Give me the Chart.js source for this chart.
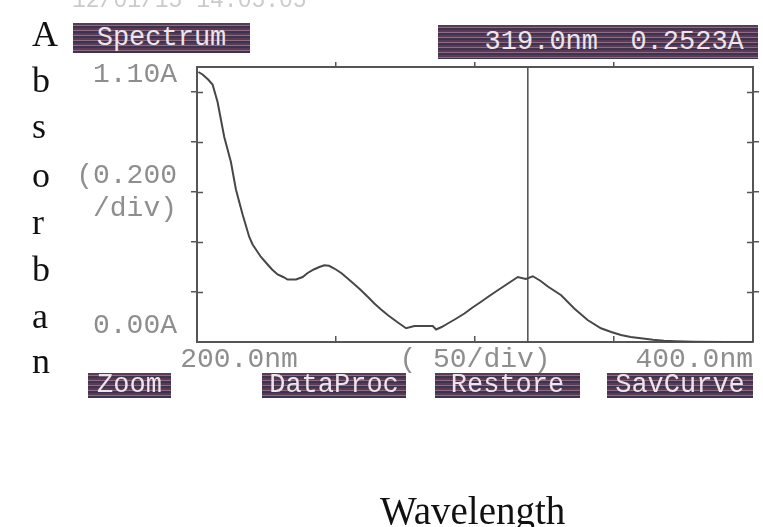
<!DOCTYPE html>
<html>
<head>
<meta charset="utf-8">
<script src="https://cdn.jsdelivr.net/npm/chart.js@4.4.0/dist/chart.umd.min.js"></script>
<style>
  body { margin: 0; background: #fff; }
  #wrap { position: relative; width: 763px; height: 527px; overflow: hidden; }
  #box { position: absolute; left: 0; top: 0; width: 763px; height: 527px; }
  .side { position: absolute; left: 32px; font-family: "Liberation Serif", serif; font-size: 36px; color: #111; line-height: 1; }
  .btn { position: absolute; color: #eee4ea; font-family: "Liberation Mono", monospace; font-size: 27px; text-align: center; white-space: pre;
         background: repeating-linear-gradient(to bottom, #5b3a52 0px, #5b3a52 2px, #8d6c84 2px, #8d6c84 3px, #3c3352 3px, #3c3352 5px); }
  .stamp { position: absolute; left: 72px; top: -12px; font-family: "Liberation Mono", monospace; font-size: 23px; color: #cbcbcb; }
  .xtitle { position: absolute; left: 380px; top: 488px; font-family: "Liberation Serif", serif; font-size: 39px; color: #111; }
</style>
</head>
<body>
<div id="wrap">
  <div id="box"><canvas id="spec"></canvas></div>
  <div class="stamp">12/01/15 14:05:05</div>
  <div class="btn" style="left:73px;top:23px;width:177px;height:30px;line-height:30px;">Spectrum</div>
  <div class="btn" style="left:438px;top:25px;width:320px;height:34px;line-height:34px;">  319.0nm  0.2523A</div>
  <div class="btn" style="left:88px;top:373px;width:83px;height:25px;line-height:25px;">Zoom</div>
  <div class="btn" style="left:262px;top:373px;width:144px;height:25px;line-height:25px;">DataProc</div>
  <div class="btn" style="left:435px;top:373px;width:145px;height:25px;line-height:25px;">Restore</div>
  <div class="btn" style="left:607px;top:373px;width:146px;height:25px;line-height:25px;">SavCurve</div>
  <div class="side" style="top:16px;">A</div>
  <div class="side" style="top:62px;">b</div>
  <div class="side" style="top:108px;">s</div>
  <div class="side" style="top:157px;">o</div>
  <div class="side" style="top:204px;">r</div>
  <div class="side" style="top:251px;">b</div>
  <div class="side" style="top:298px;">a</div>
  <div class="side" style="top:343px;">n</div>
  <div class="xtitle">Wavelength</div>
</div>
<script>
// spectrum (nm, absorbance)
var wavelength = [200.5, 202, 204, 205.6, 207.4, 208.6, 209.8, 211, 212.2, 214, 216.4, 218.8, 220, 221.2, 223, 225.4, 227, 229,
  231, 232.6, 235.6, 238, 239.8, 242, 244, 245.8, 247.5, 249.4, 252, 254.2, 256.5, 259, 261.5, 263.8, 266, 268.6, 272, 275.2,
  278.2, 284.8, 286, 288, 290.2, 293, 296.2, 299, 302.2, 305, 308.2, 312, 315.4, 318.3, 320.8, 323.5, 326.2, 331, 335.7,
  340.5, 345.3, 349, 352.5, 356, 359.7, 364, 368, 372, 378.9, 390, 400];
var absorbance = [1.08, 1.07, 1.05, 1.03, 0.96, 0.89, 0.82, 0.77, 0.72, 0.61, 0.51, 0.42, 0.39, 0.37, 0.34, 0.31, 0.29, 0.27,
  0.26, 0.25, 0.25, 0.26, 0.276, 0.29, 0.3, 0.307, 0.305, 0.294, 0.275, 0.254, 0.232, 0.207, 0.18, 0.154, 0.132, 0.108, 0.08, 0.055,
  0.064, 0.064, 0.05, 0.06, 0.074, 0.092, 0.114, 0.137, 0.161, 0.183, 0.207, 0.235, 0.26, 0.252, 0.263, 0.245, 0.222, 0.187, 0.134,
  0.088, 0.055, 0.04, 0.028, 0.02, 0.015, 0.009, 0.005, 0.003, 0.001, 0, 0];

var cursorX = [319, 319];
var cursorY = [0, 1.1];

var xTickValues = [200, 250, 300, 350, 400];
var xTickLabels = ['     200.0nm', '', '( 50/div)', '', '400.0nm       '];
var yMarkValues = [0.2, 0.4, 0.6, 0.8, 1.0];
var yLabelValues = [0.065, 0.6, 1.07];
var yLabelTexts = ['0.00A', ['(0.200', '/div)'], '1.10A'];

function pts(xs, ys) {
    return xs.map(function (x, i) { return { x: x, y: ys[i] }; });
}

var tickFont = { family: "Liberation Mono", size: 28 };
var inkColor = "#555555";
var labelGray = "#8e8e8e";

// inner half of the cross-shaped tick marks on both y axes
var innerTicks = {
    id: "innerTicks",
    afterDatasetsDraw: function (chart) {
        var c = chart.ctx, a = chart.chartArea, ys = chart.scales.y;
        c.save();
        c.strokeStyle = inkColor;
        c.lineWidth = 1.5;
        yMarkValues.forEach(function (v) {
            var py = Math.round(ys.getPixelForValue(v)) + 0.5;
            c.beginPath();
            c.moveTo(a.left, py); c.lineTo(a.left + 6, py);
            c.moveTo(a.right - 6, py); c.lineTo(a.right, py);
            c.stroke();
        });
        c.restore();
    }
};

var ctx = document.getElementById("spec").getContext("2d");
new Chart(ctx, {
    type: "line",
    data: {
        datasets: [{
            data: pts(wavelength, absorbance),
            borderColor: "#474747",
            borderWidth: 2,
            pointRadius: 0,
            fill: false,
            tension: 0
        }, {
            data: pts(cursorX, cursorY),
            borderColor: "#4d4d4d",
            borderWidth: 1.5,
            pointRadius: 0,
            fill: false
        }]
    },
    plugins: [innerTicks],
    options: {
        responsive: true,
        maintainAspectRatio: false,
        animation: false,
        layout: { padding: { left: 0, top: 67, right: 10, bottom: 0 } },
        plugins: { legend: { display: false }, tooltip: { enabled: false } },
        scales: {
            x: {
                type: "linear",
                min: 200,
                max: 400,
                afterBuildTicks: function (scale) {
                    scale.ticks = xTickValues.map(function (v) { return { value: v }; });
                },
                afterFit: function (scale) {
                    scale.height = 185;
                    scale.paddingLeft = 0;
                    scale.paddingRight = 0;
                },
                border: { color: inkColor, width: 2 },
                grid: {
                    drawOnChartArea: false, tickLength: -6, lineWidth: 1.5,
                    color: function (c) { return (c.index === 0 || c.index === xTickValues.length - 1) ? "rgba(0,0,0,0)" : inkColor; }
                },
                ticks: {
                    align: "center",
                    maxRotation: 0,
                    autoSkip: false,
                    padding: 7,
                    color: labelGray,
                    font: tickFont,
                    callback: function (value, index) { return xTickLabels[index]; }
                }
            },
            xTop: {
                type: "linear",
                position: "top",
                min: 200,
                max: 400,
                afterBuildTicks: function (scale) {
                    scale.ticks = xTickValues.map(function (v) { return { value: v }; });
                },
                afterFit: function (scale) { scale.height = 0; },
                border: { color: inkColor, width: 2 },
                grid: {
                    drawOnChartArea: false, tickLength: 5, lineWidth: 1.5,
                    color: function (c) { return (c.index === 0 || c.index === xTickValues.length - 1) ? "rgba(0,0,0,0)" : inkColor; }
                },
                ticks: { display: false }
            },
            y: {
                min: 0,
                max: 1.1,
                afterBuildTicks: function (scale) {
                    var vals = yMarkValues.concat(yLabelValues.filter(function (v) { return yMarkValues.indexOf(v) < 0; }));
                    vals.sort(function (p, q) { return p - q; });
                    scale.ticks = vals.map(function (v) { return { value: v }; });
                },
                afterFit: function (scale) { scale.width = 197; },
                border: { color: inkColor, width: 2 },
                grid: {
                    drawOnChartArea: false, tickLength: 6, lineWidth: 1.5,
                    color: function (c) { return yMarkValues.indexOf(c.tick.value) >= 0 ? inkColor : "rgba(0,0,0,0)"; }
                },
                ticks: {
                    autoSkip: false,
                    padding: 14,
                    color: labelGray,
                    font: tickFont,
                    callback: function (value) {
                        var i = yLabelValues.indexOf(value);
                        return i >= 0 ? yLabelTexts[i] : "";
                    }
                }
            },
            yRight: {
                position: "right",
                min: 0,
                max: 1.1,
                afterBuildTicks: function (scale) {
                    scale.ticks = yMarkValues.map(function (v) { return { value: v }; });
                },
                afterFit: function (scale) { scale.width = 0; },
                border: { color: inkColor, width: 2 },
                grid: { drawOnChartArea: false, tickLength: 6, color: inkColor, lineWidth: 1.5 },
                ticks: { display: false }
            }
        }
    }
});
</script>
</body>
</html>
